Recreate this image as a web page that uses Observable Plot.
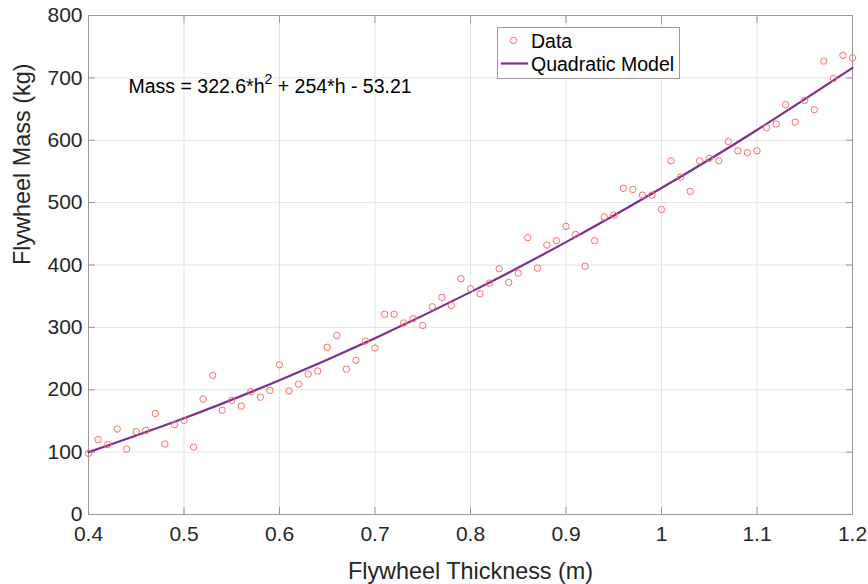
<!DOCTYPE html>
<html><head><meta charset="utf-8">
<script src="https://cdn.jsdelivr.net/npm/d3@7"></script>
<script src="https://cdn.jsdelivr.net/npm/@observablehq/plot@0.6"></script>
<style>body{margin:0;background:#fff;} svg{display:block;}</style>
</head><body><div id="chart"></div>
<script>
const thickness = [0.40,0.41,0.42,0.43,0.44,0.45,0.46,0.47,0.48,0.49,
  0.50,0.51,0.52,0.53,0.54,0.55,0.56,0.57,0.58,0.59,
  0.60,0.61,0.62,0.63,0.64,0.65,0.66,0.67,0.68,0.69,
  0.70,0.71,0.72,0.73,0.74,0.75,0.76,0.77,0.78,0.79,
  0.80,0.81,0.82,0.83,0.84,0.85,0.86,0.87,0.88,0.89,
  0.90,0.91,0.92,0.93,0.94,0.95,0.96,0.97,0.98,0.99,
  1.00,1.01,1.02,1.03,1.04,1.05,1.06,1.07,1.08,1.09,
  1.10,1.11,1.12,1.13,1.14,1.15,1.16,1.17,1.18,1.19,1.20];
const mass = [98,120,112,137,105,133,135,162,113,144,
  151,108,185,223,167,183,174,197,188,199,
  240,198,209,225,230,268,287,233,247,278,
  267,321,321,307,314,303,333,348,335,378,
  362,354,371,394,372,387,444,395,432,439,
  462,449,398,439,477,480,523,521,512,512,
  489,567,541,518,567,571,567,598,583,580,
  583,620,626,657,629,664,649,727,699,736,732];
const modelThickness = [0.4,0.5,0.6,0.7,0.8,0.9,1.0,1.1,1.2];
const modelMass = [100.0,154.4,215.3,282.7,356.5,436.7,523.4,616.5,716.1];
const xTicks = [0.4,0.5,0.6,0.7,0.8,0.9,1.0,1.1,1.2];
const xTickLabels = ["0.4","0.5","0.6","0.7","0.8","0.9","1","1.1","1.2"];
const yTicks = [0,100,200,300,400,500,600,700,800];
const xLabel = "Flywheel Thickness (m)";
const yLabel = "Flywheel Mass (kg)";
const equation = ["Mass = 322.6*h", "2", " + 254*h - 53.21"];
const legendLabels = ["Data", "Quadratic Model"];

const dataPts = thickness.map((t, i) => ({t, m: mass[i]}));
const modelPts = modelThickness.map((t, i) => ({t, m: modelMass[i]}));

const FONT = "'Liberation Sans', Arial, Helvetica, sans-serif";
const dotColor = "#ff6a6a";
const lineColor = "#7e2f8e";

const plot = Plot.plot({
  width: 868, height: 584,
  marginLeft: 88, marginRight: 16, marginTop: 15, marginBottom: 70,
  style: {fontFamily: FONT, fontSize: "21px", color: "#262626", background: "#fff"},
  x: {domain: [0.4, 1.2]},
  y: {domain: [0, 800]},
  marks: [
    Plot.gridX(xTicks, {stroke: "#e3e3e3", strokeOpacity: 1}),
    Plot.gridY(yTicks, {stroke: "#e3e3e3", strokeOpacity: 1}),
    Plot.axisX(xTicks, {anchor: "bottom", tickSize: 0, tickPadding: 12, tickFormat: (d, i) => xTickLabels[i], fontSize: 21, label: null}),
    Plot.axisY(yTicks, {anchor: "left", tickSize: 0, tickPadding: 6, fontSize: 21, label: null}),
    Plot.axisX(xTicks, {anchor: "bottom", tickSize: -7, text: null, label: null, stroke: "#999"}),
    Plot.axisX(xTicks, {anchor: "top", tickSize: -7, text: null, label: null, stroke: "#999"}),
    Plot.axisY(yTicks, {anchor: "left", tickSize: -7, text: null, label: null, stroke: "#999"}),
    Plot.axisY(yTicks, {anchor: "right", tickSize: -7, text: null, label: null, stroke: "#999"}),
    Plot.frame({stroke: "#999"}),
    Plot.line(modelPts, {x: "t", y: "m", curve: "natural", stroke: lineColor, strokeWidth: 2.2}),
    Plot.dot(dataPts, {x: "t", y: "m", r: 3.2, stroke: dotColor, strokeWidth: 1}),
    Plot.text([xLabel], {frameAnchor: "bottom", dy: 57, lineAnchor: "middle", fontSize: 23.4, fill: "#262626"}),
    Plot.text([yLabel], {frameAnchor: "left", dx: -66, rotate: -90, lineAnchor: "middle", fontSize: 23.4, fill: "#262626"}),
    Plot.text([equation.join("")], {frameAnchor: "top-left", dx: 40, dy: 71, textAnchor: "start", lineAnchor: "middle", fontSize: 19.5, fill: "#000"})
  ]
});

const svg = d3.select(plot);
// superscript in the equation
svg.selectAll("text").filter(function() { return this.textContent === equation.join(""); })
  .each(function() {
    const t = d3.select(this);
    t.text(null);
    t.append("tspan").text(equation[0]);
    t.append("tspan").attr("dy", -9).attr("font-size", 14).text(equation[1]);
    t.append("tspan").attr("dy", 9).attr("font-size", 19.5).text(equation[2]);
  });

// legend
const lg = svg.append("g").attr("font-family", FONT).attr("font-size", 19.5).attr("text-anchor", "start");
lg.append("rect").attr("x", 497.5).attr("y", 27.5).attr("width", 182).attr("height", 51)
  .attr("fill", "#fff").attr("stroke", "#999");
lg.append("circle").attr("cx", 513.5).attr("cy", 40.5).attr("r", 3.2)
  .attr("fill", "none").attr("stroke", dotColor);
lg.append("line").attr("x1", 501).attr("x2", 528).attr("y1", 63.5).attr("y2", 63.5)
  .attr("stroke", lineColor).attr("stroke-width", 2.2);
lg.append("text").attr("x", 531).attr("y", 47.5).attr("fill", "#000").text(legendLabels[0]);
lg.append("text").attr("x", 531).attr("y", 71).attr("fill", "#000").text(legendLabels[1]);

document.getElementById("chart").appendChild(plot);
</script></body></html>
